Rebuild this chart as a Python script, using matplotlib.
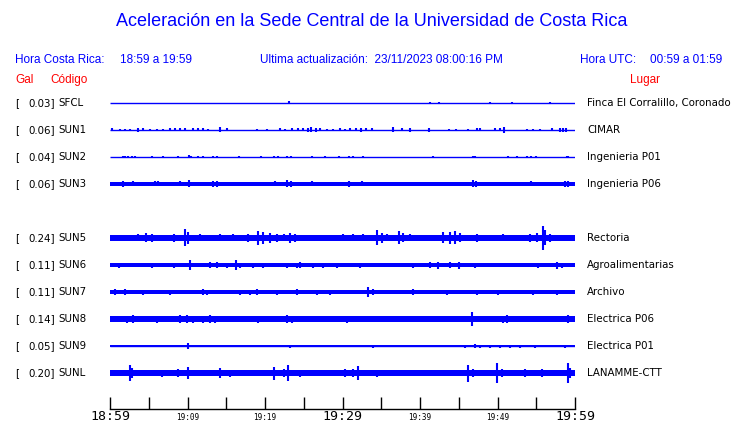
import matplotlib.pyplot as plt

# estaciones (Gal maximo, codigo, lugar)
gal = [0.03, 0.06, 0.04, 0.06, None, 0.24, 0.11, 0.11, 0.14, 0.05, 0.20]
codigos = ["SFCL", "SUN1", "SUN2", "SUN3", None, "SUN5", "SUN6", "SUN7", "SUN8", "SUN9", "SUNL"]
lugares = ["Finca El Corralillo, Coronado", "CIMAR", "Ingenieria P01", "Ingenieria P06", None,
           "Rectoria", "Agroalimentarias", "Archivo", "Electrica P06", "Electrica P01", "LANAMME-CTT"]

# nivel de ruido base (gal) por estacion
ruido = [0.0, 0.0, 0.0, 0.04, None, 0.06, 0.035, 0.04, 0.055, 0.015, 0.06]

# pulsos: (minuto desde 18:59, amplitud en gal)
pulsos = {
    "SFCL": [(23.1, 0.03), (41.3, 0.02), (42.5, 0.015), (49.0, 0.015), (51.9, 0.02), (56.8, 0.015)],
    "SUN1": [(0.3, 0.03), (1.3, 0.02), (1.9, 0.02), (2.6, 0.02), (3.6, 0.04), (4.3, 0.03), (5.2, 0.02),
             (6.1, 0.02), (6.8, 0.02), (7.7, 0.03), (8.4, 0.03), (9.0, 0.03), (9.7, 0.03), (10.7, 0.03),
             (11.4, 0.03), (12.0, 0.03), (12.6, 0.02), (14.2, 0.05), (15.1, 0.03), (19.0, 0.02),
             (20.3, 0.02), (21.9, 0.03), (22.6, 0.02), (23.5, 0.03), (24.3, 0.03), (24.9, 0.03),
             (25.5, 0.04), (25.9, 0.05), (26.6, 0.04), (27.1, 0.03), (28.0, 0.02), (28.8, 0.02),
             (29.7, 0.03), (30.3, 0.02), (31.0, 0.03), (31.7, 0.03), (32.4, 0.04), (33.0, 0.03),
             (33.8, 0.03), (36.5, 0.05), (37.7, 0.03), (38.7, 0.04), (41.2, 0.04), (43.7, 0.02),
             (44.6, 0.02), (46.2, 0.02), (47.4, 0.03), (47.7, 0.03), (49.7, 0.03), (50.3, 0.03),
             (50.9, 0.06), (53.8, 0.02), (54.6, 0.02), (55.5, 0.02), (57.0, 0.03), (58.1, 0.04),
             (58.5, 0.04), (58.8, 0.04)],
    "SUN2": [(1.7, 0.02), (1.9, 0.015), (2.3, 0.015), (2.8, 0.015), (3.2, 0.015), (5.4, 0.01), (6.9, 0.01),
             (8.8, 0.01), (10.2, 0.03), (10.5, 0.02), (11.4, 0.01), (12.0, 0.01), (13.3, 0.02), (13.8, 0.02),
             (16.6, 0.01), (19.5, 0.01), (21.1, 0.01), (21.7, 0.01), (22.8, 0.02), (23.4, 0.02), (26.0, 0.01),
             (27.7, 0.01), (29.5, 0.01), (30.8, 0.02), (31.4, 0.02), (32.7, 0.015), (41.7, 0.015),
             (46.8, 0.025), (47.1, 0.02), (51.4, 0.01), (52.5, 0.01), (53.8, 0.01), (54.3, 0.02),
             (55.0, 0.015), (59.0, 0.02), (59.1, 0.02)],
    "SUN3": [(1.7, 0.06), (3.0, 0.05), (5.8, 0.05), (6.2, 0.05), (9.0, 0.05), (10.2, 0.07), (13.3, 0.06),
             (13.8, 0.06), (21.3, 0.05), (22.8, 0.07), (23.4, 0.06), (26.0, 0.05), (30.8, 0.06), (32.5, 0.05),
             (46.8, 0.07), (47.2, 0.06), (54.3, 0.05), (58.7, 0.06), (59.1, 0.06)],
    "SUN5": [(3.6, 0.07), (4.7, 0.09), (5.4, 0.08), (8.2, 0.08), (9.7, 0.17), (10.1, 0.12), (11.6, 0.07),
             (14.2, 0.07), (15.9, 0.07), (17.8, 0.08), (19.1, 0.14), (19.8, 0.12), (20.6, 0.1), (21.5, 0.08),
             (22.4, 0.07), (23.2, 0.1), (23.9, 0.08), (27.1, 0.06), (28.8, 0.06), (30.1, 0.07), (31.4, 0.07),
             (32.7, 0.07), (34.5, 0.15), (35.1, 0.1), (35.7, 0.07), (37.3, 0.13), (37.8, 0.09), (38.7, 0.07),
             (40.0, 0.06), (41.5, 0.06), (43.0, 0.11), (43.9, 0.12), (44.5, 0.13), (45.2, 0.09), (47.4, 0.08),
             (50.7, 0.07), (52.6, 0.06), (54.2, 0.08), (55.1, 0.09), (55.9, 0.24), (56.1, 0.15), (56.8, 0.08)],
    "SUN6": [(1.2, 0.05), (5.4, 0.05), (8.2, 0.05), (10.3, 0.11), (12.9, 0.06), (13.8, 0.06), (15.1, 0.05),
             (16.3, 0.11), (16.8, 0.05), (18.5, 0.05), (19.8, 0.05), (22.8, 0.05), (24.1, 0.05), (24.5, 0.06),
             (26.2, 0.05), (27.5, 0.05), (29.3, 0.05), (31.0, 0.04), (32.3, 0.05), (39.1, 0.05), (41.3, 0.06),
             (42.3, 0.07), (43.9, 0.06), (45.0, 0.07), (47.1, 0.05), (48.4, 0.04), (52.0, 0.04), (55.2, 0.05),
             (57.7, 0.07), (58.3, 0.05)],
    "SUN7": [(0.6, 0.06), (1.9, 0.06), (4.3, 0.05), (7.7, 0.05), (12.0, 0.06), (12.5, 0.05), (16.8, 0.05),
             (18.0, 0.05), (19.0, 0.06), (21.5, 0.05), (24.1, 0.06), (26.7, 0.05), (28.4, 0.05), (33.3, 0.11),
             (33.9, 0.06), (39.1, 0.06), (43.5, 0.05), (47.4, 0.05), (50.1, 0.05), (54.6, 0.05), (57.7, 0.05)],
    "SUN8": [(0.4, 0.06), (2.2, 0.07), (3.0, 0.08), (6.1, 0.07), (7.4, 0.06), (9.0, 0.09), (9.9, 0.08),
             (10.7, 0.07), (12.0, 0.07), (12.9, 0.08), (13.5, 0.07), (15.9, 0.06), (17.7, 0.06), (19.1, 0.07),
             (20.3, 0.06), (22.8, 0.09), (23.5, 0.07), (26.1, 0.06), (27.5, 0.06), (30.6, 0.07), (32.3, 0.06),
             (33.9, 0.06), (36.1, 0.06), (39.6, 0.06), (40.9, 0.06), (43.5, 0.06), (44.9, 0.06), (46.7, 0.14),
             (47.4, 0.06), (50.7, 0.07), (51.2, 0.08), (53.3, 0.05), (55.9, 0.06), (59.1, 0.08), (59.6, 0.06)],
    "SUN9": [(0.3, 0.02), (1.9, 0.02), (3.2, 0.02), (5.2, 0.02), (8.4, 0.02), (10.1, 0.05), (12.9, 0.02),
             (14.8, 0.02), (18.1, 0.02), (21.3, 0.025), (23.2, 0.03), (24.5, 0.02), (26.5, 0.02), (28.4, 0.02),
             (31.0, 0.02), (32.9, 0.02), (33.9, 0.03), (36.5, 0.02), (38.1, 0.02), (39.4, 0.02), (41.3, 0.02),
             (42.6, 0.02), (43.9, 0.02), (45.8, 0.03), (47.1, 0.04), (47.7, 0.03), (49.0, 0.03), (50.3, 0.03),
             (51.6, 0.03), (52.9, 0.03), (54.8, 0.03), (58.7, 0.03)],
    "SUNL": [(2.6, 0.15), (2.8, 0.1), (6.7, 0.07), (8.8, 0.08), (10.1, 0.12), (14.2, 0.1), (15.5, 0.07),
             (21.1, 0.13), (22.4, 0.09), (23.0, 0.15), (24.5, 0.07), (25.8, 0.06), (30.3, 0.08), (31.4, 0.09),
             (32.0, 0.14), (34.5, 0.07), (46.2, 0.17), (46.8, 0.09), (49.9, 0.2), (50.6, 0.08), (53.5, 0.08),
             (55.7, 0.08), (59.1, 0.2), (59.4, 0.1)],
}

ticks_min = [0, 5, 10, 15, 20, 25, 30, 35, 40, 45, 50, 55, 60]
ticks_lbl = ["18:59", "", "19:09", "", "19:19", "", "19:29", "", "19:39", "", "19:49", "", "19:59"]

azul = "#0000ff"
rojo = "#ff0000"
W, H = 740, 423
escala = 50 / 27  # filas por gal

fig = plt.figure(figsize=(7.4, 4.23), dpi=100)
fig.patch.set_facecolor("white")

# ejes de las trazas: x 110..575 px, fila i en y = 103 + 27*i px
ax = fig.add_axes([110 / W, 1 - 409 / H, 465 / W, (409 - 88) / H])
ax.set_xlim(0, 60)
ax.set_ylim((409 - 103) / 27, (88 - 103) / 27)

for i, cod in enumerate(codigos):
    if cod is None:
        continue
    b = ruido[i] * escala
    ax.hlines(i, 0, 60, color=azul, lw=1)
    if b > 0:
        ax.fill_between([0, 60], i - b, i + b, color=azul, lw=0)
    for m, a in pulsos[cod]:
        ax.vlines(m, i - a * escala, i + a * escala, color=azul, lw=1.5)

for s in ["top", "left", "right"]:
    ax.spines[s].set_visible(False)
ax.spines["bottom"].set_linewidth(1)
ax.set_yticks([])
ax.set_xticks(ticks_min)
ax.set_xticklabels([])
ax.tick_params(axis="x", direction="in", length=9, width=1)

# etiquetas de hora: grandes en los extremos y el centro
for m, t in zip(ticks_min, ticks_lbl):
    if not t:
        continue
    grande = m in (0, 30, 60)
    ax.annotate(t, xy=(m, 0), xycoords=("data", "axes fraction"),
                xytext=(0, -1 if grande else -3), textcoords="offset points",
                ha="center", va="top", family="DejaVu Sans Mono",
                fontsize=9.5 if grande else 5.5)

# textos de la cabecera
f = "Liberation Sans"
fig.text(372 / W, 1 - 22 / H, "Aceleración en la Sede Central de la Universidad de Costa Rica",
         ha="center", va="center", color=azul, fontsize=13, family=f)
y2 = 1 - 60 / H
fig.text(15 / W, y2, "Hora Costa Rica:", color=azul, fontsize=8.5, family=f, va="center")
fig.text(120 / W, y2, "18:59 a 19:59", color=azul, fontsize=8.5, family=f, va="center")
fig.text(260 / W, y2, "Ultima actualización:  23/11/2023 08:00:16 PM", color=azul, fontsize=8.5,
         family=f, va="center")
fig.text(580 / W, y2, "Hora UTC:", color=azul, fontsize=8.5, family=f, va="center")
fig.text(650 / W, y2, "00:59 a 01:59", color=azul, fontsize=8.5, family=f, va="center")
y3 = 1 - 80 / H
fig.text(15 / W, y3, "Gal", color=rojo, fontsize=8.5, family=f, va="center")
fig.text(50 / W, y3, "Código", color=rojo, fontsize=8.5, family=f, va="center")
fig.text(630 / W, y3, "Lugar", color=rojo, fontsize=8.5, family=f, va="center")

# etiquetas de cada estacion
for i, cod in enumerate(codigos):
    if cod is None:
        continue
    y = 1 - (103 + 27 * i) / H
    fig.text(15 / W, y, "[", fontsize=7.4, va="center")
    fig.text(55 / W, y, "%.2f]" % gal[i], fontsize=7.4, va="center", ha="right")
    fig.text(58 / W, y, cod, fontsize=7.4, va="center")
    fig.text(587 / W, y, lugares[i], fontsize=7.4, va="center")

fig.savefig("out.png", dpi=100)
